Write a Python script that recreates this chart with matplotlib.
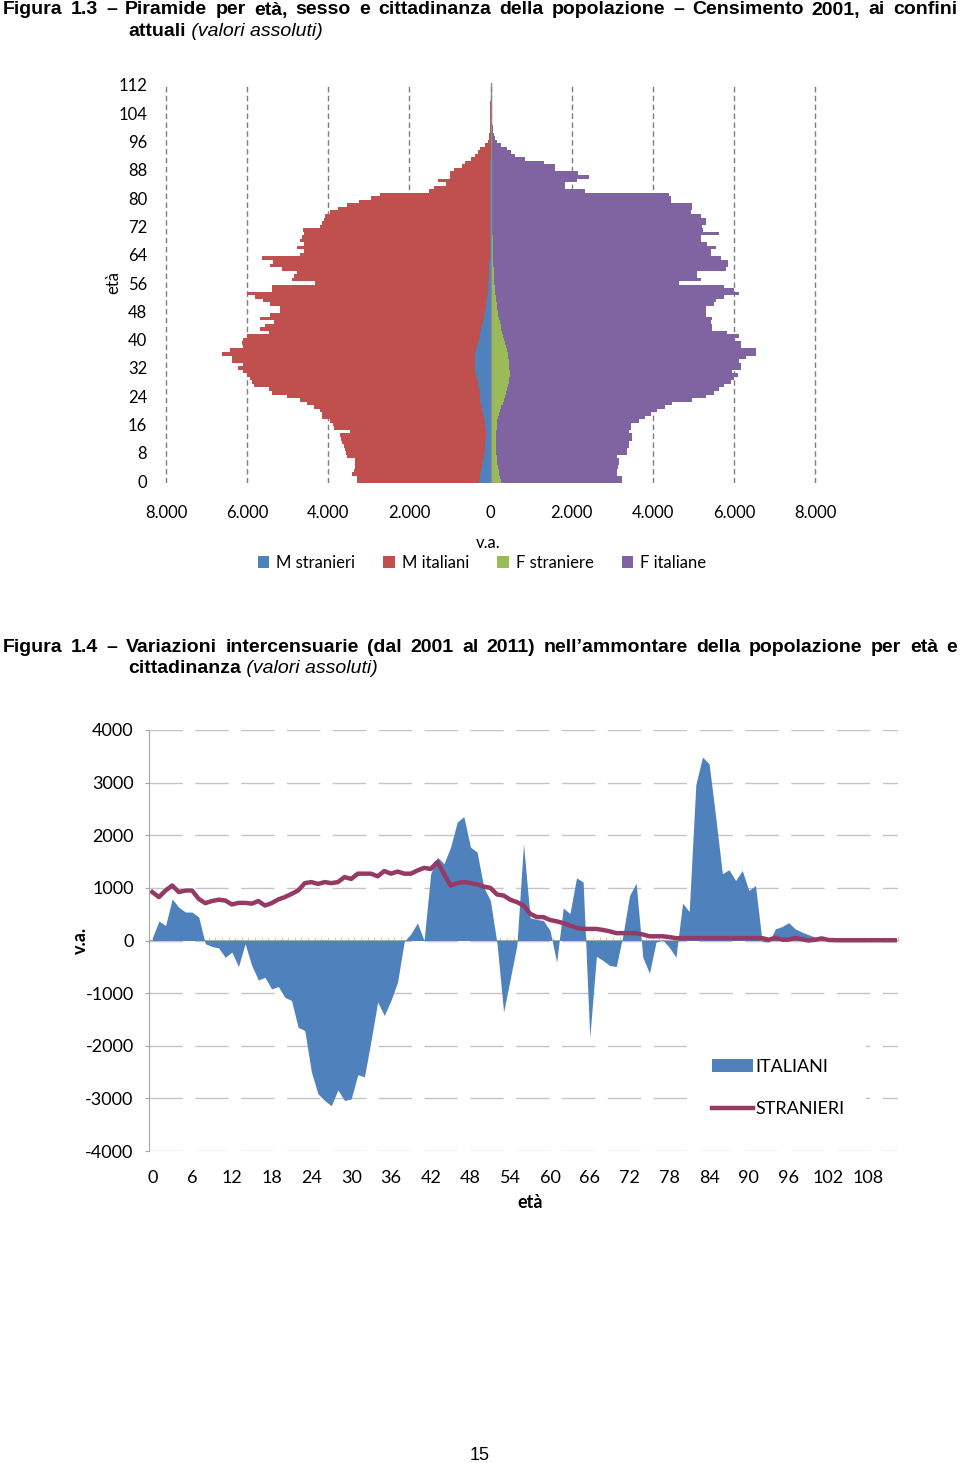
import numpy as np
import matplotlib
matplotlib.use('Agg')
import matplotlib.pyplot as plt
from matplotlib.text import Annotation

plt.rcParams['font.family'] = ['Lato', 'DejaVu Sans']
plt.rcParams['axes.unicode_minus'] = False

W, H = 960, 1463

# ---------------------------
# Figura 1.3 - piramide 2001 (eta 0..112)
# ---------------------------
eta = list(range(0, 113))

m_stranieri = [280, 270, 260, 240, 220, 200, 180, 160, 150, 140,
               130, 125, 120, 120, 120, 125, 130, 140, 160, 180,
               200, 220, 240, 250, 260, 270, 280, 300, 320, 340,
               360, 370, 380, 385, 385, 380, 370, 350, 330, 310,
               290, 270, 250, 230, 210, 190, 170, 150, 130, 115,
               100, 90, 80, 70, 60, 55, 50, 45, 40, 35,
               30, 28, 26, 24, 22, 20, 18, 16, 15, 14,
               13, 12, 11, 10, 9, 8, 7, 6, 6, 5,
               5, 4, 3, 3, 2, 2, 2, 1, 1, 1,
               1, 0, 0, 0, 0, 0, 0, 0, 0, 0,
               0, 0, 0, 0, 0, 0, 0, 0, 0, 0,
               0, 0, 0]

m_italiani = [3010, 3020, 3155, 3135, 3110, 3130, 3150, 3380, 3405, 3440,
              3490, 3535, 3570, 3580, 3350, 3745, 3750, 3810, 3995, 3975,
              4000, 4140, 4285, 4440, 4760, 5120, 5190, 5540, 5565, 5600,
              5650, 5720, 5835, 5720, 5995, 6000, 6255, 6070, 5760, 5820,
              5815, 5740, 5220, 5450, 5345, 5160, 5510, 5280, 5055, 5070,
              5330, 5510, 5720, 5940, 5330, 5335, 4270, 4855, 4815, 4740,
              5110, 5400, 5325, 5615, 4670, 4570, 4755, 4575, 4675, 4635,
              4595, 4600, 4190, 4145, 4090, 4070, 3940, 3755, 3525, 3225,
              2935, 2710, 1515, 1395, 1098, 1298, 998, 989, 904, 699,
              619, 490, 370, 300, 250, 125, 60, 40, 25, 15,
              10, 6, 4, 3, 2, 1, 1, 1, 0, 0,
              0, 0, 0]

f_straniere = [260, 240, 220, 200, 185, 170, 160, 150, 145, 140,
               135, 135, 135, 140, 145, 150, 160, 170, 190, 210,
               240, 270, 300, 330, 360, 390, 410, 430, 450, 460,
               470, 470, 465, 460, 450, 440, 420, 400, 380, 360,
               340, 310, 290, 270, 250, 230, 210, 190, 175, 160,
               150, 140, 130, 120, 110, 100, 95, 90, 85, 80,
               75, 70, 68, 65, 62, 60, 58, 55, 52, 50,
               45, 42, 40, 38, 35, 32, 30, 28, 25, 22,
               20, 18, 10, 8, 8, 8, 8, 7, 6, 5,
               4, 3, 2, 2, 1, 1, 0, 0, 0, 0,
               0, 0, 0, 0, 0, 0, 0, 0, 0, 0,
               0, 0, 0]

f_italiane = [2990, 3010, 2910, 2930, 2965, 3000, 3010, 2980, 3230, 3235,
              3280, 3280, 3365, 3360, 3270, 3305, 3295, 3490, 3610, 3740,
              3875, 4030, 4185, 4650, 4950, 5110, 5230, 5330, 5475, 5540,
              5630, 5480, 5705, 5710, 5680, 5860, 6120, 6140, 5790, 5810,
              5660, 5820, 5550, 5200, 5220, 5200, 5260, 5120, 5135, 5150,
              5350, 5415, 5620, 6010, 5890, 5660, 4555, 5095, 5015, 5020,
              5725, 5775, 5780, 5615, 5370, 5370, 5500, 5295, 5135, 5135,
              5595, 5185, 5185, 5270, 5275, 5155, 4910, 4950, 4955, 4420,
              4420, 4380, 2330, 1830, 1830, 2120, 2410, 2140, 1595, 1595,
              1305, 857, 598, 498, 409, 249, 150, 120, 80, 60,
              50, 40, 30, 25, 30, 20, 10, 8, 5, 3,
              2, 1, 1]

# ---------------------------
# Figura 1.4 - variazioni 2001-2011 (eta 0..112)
# ---------------------------
italiani = [50, 370, 285, 790, 630, 540, 540, 445, -60, -115,
            -140, -320, -220, -495, -60, -475, -750, -700, -920, -875,
            -1080, -1140, -1650, -1710, -2500, -2915, -3040, -3140, -2840, -3040,
            -3010, -2550, -2590, -1900, -1170, -1425, -1140, -790, -20, 125,
            335, 0, 1270, 1585, 1460, 1775, 2250, 2355, 1775, 1680,
            1015, 760, -50, -1360, -730, -95, 1840, 430, 400, 380,
            190, -410, 620, 510, 1190, 1110, -1840, -300, -380, -475,
            -495, 100, 855, 1090, -320, -620, -30, 10, -130, -320,
            710, 550, 2965, 3485, 3360, 2345, 1270, 1345, 1140, 1330,
            950, 1045, -20, -30, 220, 265, 340, 220, 160, 110,
            65, 45, 15, 8, 5, 3, 2, 1, 0, 0,
            0, 0, 0]

stranieri = [920, 825, 950, 1045, 920, 950, 950, 790, 710, 750,
             775, 760, 685, 715, 715, 700, 750, 665, 710, 780,
             825, 885, 950, 1090, 1110, 1075, 1110, 1090, 1110, 1205,
             1170, 1270, 1270, 1270, 1220, 1320, 1270, 1310, 1270, 1270,
             1330, 1380, 1360, 1490, 1270, 1045, 1090, 1110, 1090, 1065,
             1025, 1000, 875, 855, 775, 730, 665, 510, 445, 445,
             390, 365, 330, 285, 240, 220, 220, 220, 200, 175,
             140, 140, 140, 140, 115, 80, 80, 80, 65, 45,
             45, 45, 45, 45, 45, 45, 45, 45, 45, 45,
             45, 45, 45, 15, 50, 15, 15, 50, 25, 0,
             15, 40, 10, 5, 5, 5, 5, 5, 5, 5,
             5, 5, 5]

blue = '#4F81BD'
red = '#C0504D'
green = '#9BBB59'
purple = '#8064A2'
maroon = '#953A64'
title_font = ['Liberation Sans Narrow', 'Liberation Sans', 'DejaVu Sans']


def fx(px):
    return px / W


def fy(py):
    return 1 - py / H


fig = plt.figure(figsize=(W / 100, H / 100), dpi=100)
renderer = fig.canvas.get_renderer()


def justified(line, x0, x1, y, **kw):
    # spread the words of one title line across the full width
    words = line.split(' ')
    texts = [fig.text(0, fy(y), w, va='center', **kw) for w in words]
    widths = [t.get_window_extent(renderer).width for t in texts]
    gap = (x1 - x0 - sum(widths)) / (len(words) - 1)
    x = x0
    for t, w in zip(texts, widths):
        t.set_x(fx(x))
        x += w + gap


def two_part(bold_txt, ital_txt, x, y, size):
    # bold word followed by an italic part on the same line
    t = fig.text(fx(x), fy(y), bold_txt, va='center', fontsize=size,
                 fontweight='bold', family=title_font)
    a = Annotation(' ' + ital_txt, xy=(1, 0.5), xycoords=t, va='center',
                   fontsize=size, style='italic', family=title_font)
    fig.add_artist(a)


# ---------------------------
# titles
# ---------------------------
justified('Figura 1.3 – Piramide per età, sesso e cittadinanza della popolazione – '
          'Censimento 2001, ai confini', 3, 957, 10,
          fontsize=14, fontweight='bold', family=title_font)
two_part('attuali', '(valori assoluti)', 128, 32, 14)

justified('Figura 1.4 – Variazioni intercensuarie (dal 2001 al 2011) nell’ammontare '
          'della popolazione per età e', 3, 957, 647,
          fontsize=14, fontweight='bold', family=title_font)
two_part('cittadinanza', '(valori assoluti)', 128, 669, 14)

# ---------------------------
# pyramid
# ---------------------------
ms = np.array(m_stranieri)
mi = np.array(m_italiani)
fs = np.array(f_straniere)
fi = np.array(f_italiane)

ax1 = fig.add_axes([fx(164), fy(483), fx(817) - fx(164), (483 - 83) / H])
b1 = ax1.barh(eta, -ms, height=1, color=blue, lw=0, label='M stranieri')
b2 = ax1.barh(eta, -mi, left=-ms, height=1, color=red, lw=0, label='M italiani')
b3 = ax1.barh(eta, fs, height=1, color=green, lw=0, label='F straniere')
b4 = ax1.barh(eta, fi, left=fs, height=1, color=purple, lw=0, label='F italiane')
ax1.set_xlim(-8050, 8050)
ax1.set_ylim(-0.5, 112.5)
ax1.set_axisbelow(True)
ax1.grid(axis='x', color='#7F7F7F', lw=1, linestyle=(0, (4, 2.4)))
ax1.axvline(0, color='#8C8C8C', lw=1)
for s in ax1.spines.values():
    s.set_visible(False)
xt = list(range(-8000, 8001, 2000))
ax1.set_xticks(xt)
ax1.set_xticklabels([f'{abs(v):,}'.replace(',', '.') for v in xt])
ax1.set_yticks(list(range(0, 113, 8)))
ax1.tick_params(axis='x', length=0, pad=16, labelsize=12, colors='#000000')
ax1.tick_params(axis='y', length=0, pad=12, labelsize=12)
fig.text(fx(113), fy(283), 'età', rotation=90, ha='center', va='center', fontsize=12)
fig.text(fx(488), fy(543), 'v.a.', ha='center', va='center', fontsize=12)
fig.legend(handles=[b1, b2, b3, b4], loc='center', bbox_to_anchor=(fx(482), fy(563)),
           ncol=4, frameon=False, fontsize=12, handlelength=0.7, handleheight=0.7,
           handletextpad=0.4, columnspacing=1.7)

# ---------------------------
# variazioni intercensuarie
# ---------------------------
ax2 = fig.add_axes([fx(149), fy(1151), fx(898) - fx(149), (1151 - 730) / H])
ax2.fill_between(eta, 0, italiani, color=blue, lw=0, label='ITALIANI')
ax2.plot(eta, stranieri, color=maroon, lw=3.2, label='STRANIERI', solid_joinstyle='round')
ax2.set_xlim(-0.5, 112.5)
ax2.set_ylim(-4000, 4000)
ax2.set_axisbelow(True)
ax2.grid(axis='y', color='#C4C4C4', lw=1, linestyle=(0, (24, 9)))
for s in ['top', 'right', 'bottom']:
    ax2.spines[s].set_visible(False)
ax2.spines['left'].set_color('#A6A6A6')
ax2.set_yticks(list(range(-4000, 4001, 1000)))
ax2.set_xticks(list(range(0, 109, 6)))
ax2.tick_params(axis='y', length=3, color='#A6A6A6', pad=8, labelsize=13)
ax2.tick_params(axis='x', length=0, pad=14, labelsize=13)

# category axis crossing at zero
sec = ax2.secondary_xaxis(0.5)
sec.set_xticks(np.arange(-0.5, 113, 1))
sec.set_xticklabels([])
sec.tick_params(length=2.5, width=0.6, color='#C8C8C8')
for s in sec.spines.values():
    s.set_color('#A6A6A6')
    s.set_linewidth(0.8)

leg = ax2.legend(loc='center', bbox_to_anchor=(fx(778), fy(1088)),
                 bbox_transform=fig.transFigure, fontsize=13, handlelength=2.3,
                 handletextpad=0.1, labelspacing=1.45, frameon=True,
                 facecolor='white', edgecolor='none', framealpha=1, borderpad=1.2)

fig.text(fx(530), fy(1203), 'età', ha='center', va='center', fontsize=13, fontweight='bold')
fig.text(fx(80), fy(940), 'v.a.', rotation=90, ha='center', va='center', fontsize=13,
         fontweight='bold')

fig.text(fx(480), fy(1455), '15', ha='center', va='center', fontsize=13,
         family=['Liberation Sans', 'DejaVu Sans'])

fig.savefig('out.png', dpi=100)
